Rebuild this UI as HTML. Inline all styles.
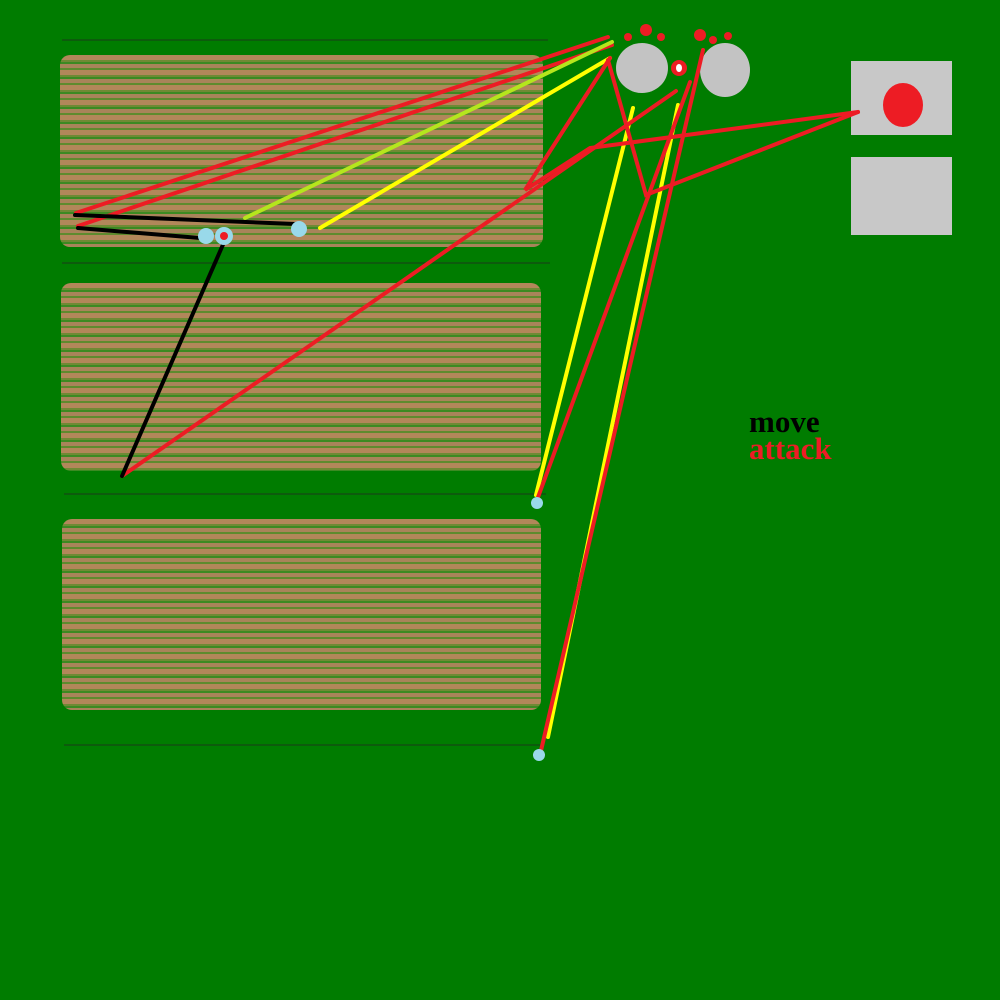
<!DOCTYPE html>
<html><head><style>
html,body{margin:0;padding:0;background:#007c00;}
.f{position:absolute;border-radius:10px;background:
repeating-linear-gradient(180deg,#b2875a 0 5px,#6f8a35 5px 7px,#3c8a22 7px 9px,#a8845a 9px 13px,#5e8b2e 13px 15px);}
svg{position:absolute;left:0;top:0;}
</style></head><body>
<div style="position:relative;width:1000px;height:1000px;overflow:hidden;background:#007c00">
<div class="f" style="left:60px;top:55px;width:483px;height:192px"></div>
<div class="f" style="left:61px;top:283px;width:480px;height:188px"></div>
<div class="f" style="left:62px;top:519px;width:479px;height:191px"></div>
<svg width="1000" height="1000">
<g stroke="#1a3a1a" stroke-width="1">
<line x1="62" y1="40" x2="548" y2="40"/><line x1="62" y1="263" x2="550" y2="263"/>
<line x1="64" y1="494" x2="546" y2="494"/><line x1="64" y1="745" x2="540" y2="745"/>
</g>
<rect x="851" y="61" width="101" height="74" fill="#c8c8c8"/>
<rect x="851" y="157" width="101" height="78" fill="#c8c8c8"/>
<ellipse cx="903" cy="105" rx="20" ry="22" fill="#ed1c24"/>
<ellipse cx="642" cy="68" rx="26" ry="25" fill="#c3c3c3"/>
<ellipse cx="725" cy="70" rx="25" ry="27" fill="#c3c3c3"/>
<g fill="#ed1c24"><circle cx="628" cy="37" r="4"/><circle cx="646" cy="30" r="6"/><circle cx="661" cy="37" r="4"/><circle cx="700" cy="35" r="6"/><circle cx="713" cy="40" r="4"/><circle cx="728" cy="36" r="4"/><circle cx="679" cy="68" r="8"/></g>
<ellipse cx="679" cy="68" rx="3" ry="4" fill="#fff"/>
<g stroke-width="4" fill="none" stroke-linecap="round">
<line x1="76" y1="213" x2="608" y2="37" stroke="#ed1c24"/>
<line x1="78" y1="226" x2="612" y2="45" stroke="#ed1c24"/>
<line x1="245" y1="218" x2="612" y2="42" stroke="#b5e61d"/>
<line x1="320" y1="228" x2="610" y2="58" stroke="#ffff00"/>
<line x1="633" y1="108" x2="536" y2="495" stroke="#ffff00"/>
<line x1="678" y1="105" x2="548" y2="737" stroke="#ffff00"/>
<polyline points="610,58 525,190 590,148 858,112" stroke="#ed1c24"/>
<polyline points="608,60 646,195 858,112" stroke="#ed1c24"/>
<line x1="122" y1="476" x2="676" y2="91" stroke="#ed1c24"/>
<line x1="703" y1="50" x2="540" y2="755" stroke="#ed1c24"/>
<line x1="690" y1="82" x2="537" y2="500" stroke="#ed1c24"/>
<line x1="75" y1="215" x2="295" y2="224" stroke="#000"/>
<line x1="78" y1="228" x2="200" y2="238" stroke="#000"/>
<line x1="225" y1="240" x2="122" y2="476" stroke="#000"/>
</g>
<g fill="#99d9ea"><circle cx="206" cy="236" r="8"/><circle cx="224" cy="236" r="9"/><circle cx="299" cy="229" r="8"/><circle cx="537" cy="503" r="6"/><circle cx="539" cy="755" r="6"/></g>
<circle cx="224" cy="236" r="4" fill="#ed1c24"/>
<text x="749" y="432" font-family="Liberation Serif,serif" font-weight="bold" font-size="31" fill="#000">move</text>
<text x="749" y="459" font-family="Liberation Serif,serif" font-weight="bold" font-size="31" fill="#ed1c24">attack</text>
</svg>
</div>
</body></html>
